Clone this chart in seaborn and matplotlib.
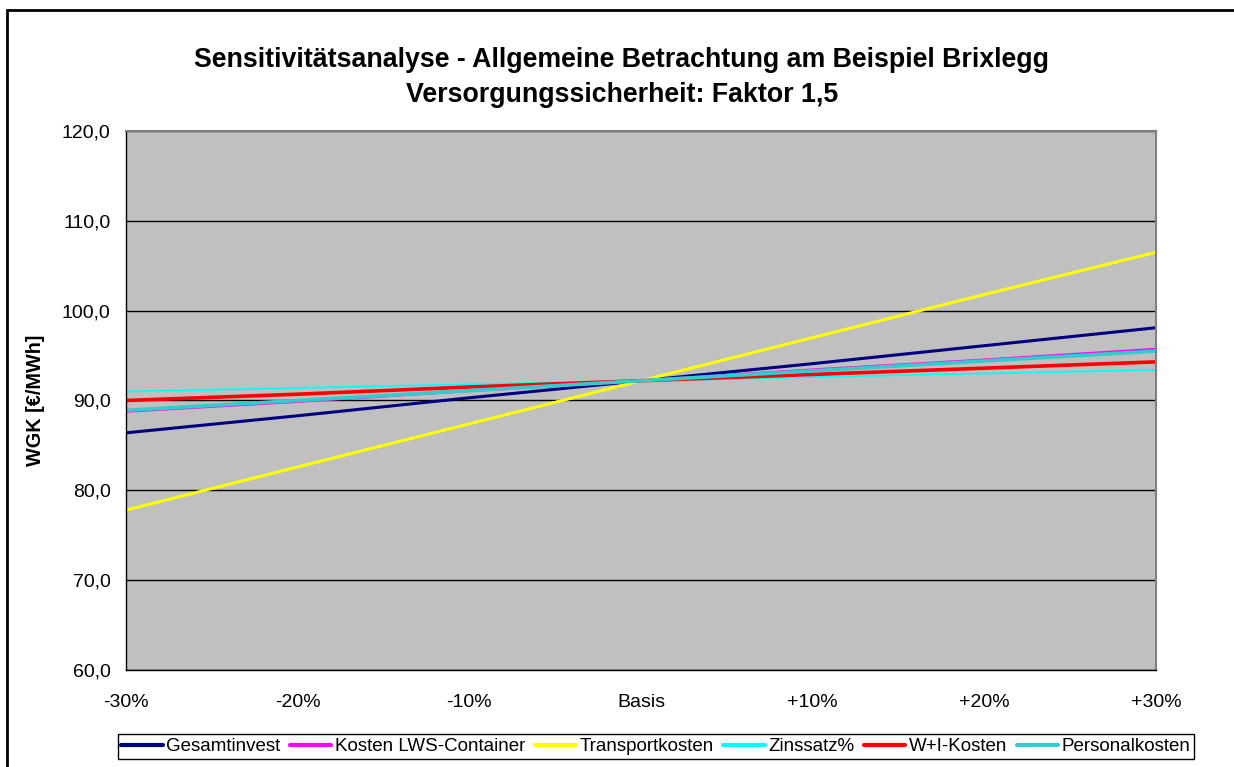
import pandas as pd
import matplotlib
matplotlib.use("Agg")
import matplotlib.pyplot as plt
import seaborn as sns
from matplotlib.patches import Rectangle

# ============================================
# DATA
# ============================================

categories = ["-30%", "-20%", "-10%", "Basis", "+10%", "+20%", "+30%"]

gesamtinvest = [86.4, 88.3, 90.3, 92.2, 94.1, 96.1, 98.1]
kosten_lws = [88.8, 89.9, 91.1, 92.2, 93.4, 94.5, 95.7]
transportkosten = [77.8, 82.6, 87.4, 92.2, 97.0, 101.8, 106.5]
zinssatz = [91.0, 91.4, 91.8, 92.2, 92.6, 93.0, 93.4]
wi_kosten = [90.0, 90.7, 91.5, 92.2, 92.9, 93.6, 94.3]
personalkosten = [88.9, 90.0, 91.1, 92.2, 93.3, 94.4, 95.5]

series_names = ["Gesamtinvest", "Kosten LWS-Container", "Transportkosten",
                "Zinssatz%", "W+I-Kosten", "Personalkosten"]
series_values = [gesamtinvest, kosten_lws, transportkosten,
                 zinssatz, wi_kosten, personalkosten]
colors = ["#000080", "#FF00FF", "#FFFF00", "#00FFFF", "#FF0000", "#33CCCC"]
widths = [2.2, 2.2, 2.2, 1.3, 2.6, 2.6]

# ============================================
# PLOT
# ============================================

sns.set_style("white")
plt.rcParams["font.family"] = ["Liberation Sans", "DejaVu Sans"]
plt.rcParams["text.color"] = "black"
plt.rcParams["xtick.color"] = "black"
plt.rcParams["ytick.color"] = "black"
plt.rcParams["axes.labelcolor"] = "black"

fig = plt.figure(figsize=(12.34, 7.67), dpi=100)
ax = fig.add_axes([0.1021, 0.1265, 0.8347, 0.7027])
ax.set_facecolor("#C0C0C0")

x_pos = list(range(len(categories)))
for name, vals, col, lw in zip(series_names, series_values, colors, widths):
    df = pd.DataFrame({"x": x_pos, "y": vals})
    sns.lineplot(data=df, x="x", y="y", ax=ax, color=col, linewidth=lw, label=name)

ax.set_xlim(0, len(categories) - 1)
ax.set_ylim(60, 120)
ax.set_xticks(x_pos)
ax.set_xticklabels(categories, fontsize=14)
yticks = [60, 70, 80, 90, 100, 110, 120]
ax.set_yticks(yticks)
ax.set_yticklabels([f"{v:.1f}".replace(".", ",") for v in yticks], fontsize=14)
ax.tick_params(axis="x", direction="out", length=4.5, width=1, pad=13)
ax.tick_params(axis="y", direction="out", length=6, width=1, pad=5)
ax.yaxis.grid(True, color="black", linewidth=1)
ax.set_axisbelow(True)
ax.set_xlabel("")
ax.set_ylabel("WGK [€/MWh]", fontsize=14.3, fontweight="bold")
ax.yaxis.set_label_coords(-0.0786, 0.5)

for side in ["left", "bottom"]:
    ax.spines[side].set_color("black")
    ax.spines[side].set_linewidth(1)
for side in ["top", "right"]:
    ax.spines[side].set_color("#808080")
    ax.spines[side].set_linewidth(1.5)

fig.text(0.504, 0.9218, "Sensitivitätsanalyse - Allgemeine Betrachtung am Beispiel Brixlegg",
         ha="center", va="center", fontsize=19.3, fontweight="bold")
fig.text(0.504, 0.8765, "Versorgungssicherheit: Faktor 1,5",
         ha="center", va="center", fontsize=19.3, fontweight="bold")

leg = ax.legend(loc="center", bbox_to_anchor=(0.5316, 0.0267), bbox_transform=fig.transFigure,
                ncol=6, fontsize=13.5, frameon=True, fancybox=False, framealpha=1,
                handlelength=2.2, handletextpad=0.2, columnspacing=0.5,
                borderpad=0.2, borderaxespad=0, edgecolor="black")
leg.get_frame().set_linewidth(1.0)
for line in leg.get_lines():
    line.set_linewidth(3)

# outer chart border
fig.patches.append(Rectangle((0.006, -0.01), 1.0, 0.997, transform=fig.transFigure,
                             fill=False, edgecolor="black", linewidth=2))

fig.savefig("out.png", dpi=100)
